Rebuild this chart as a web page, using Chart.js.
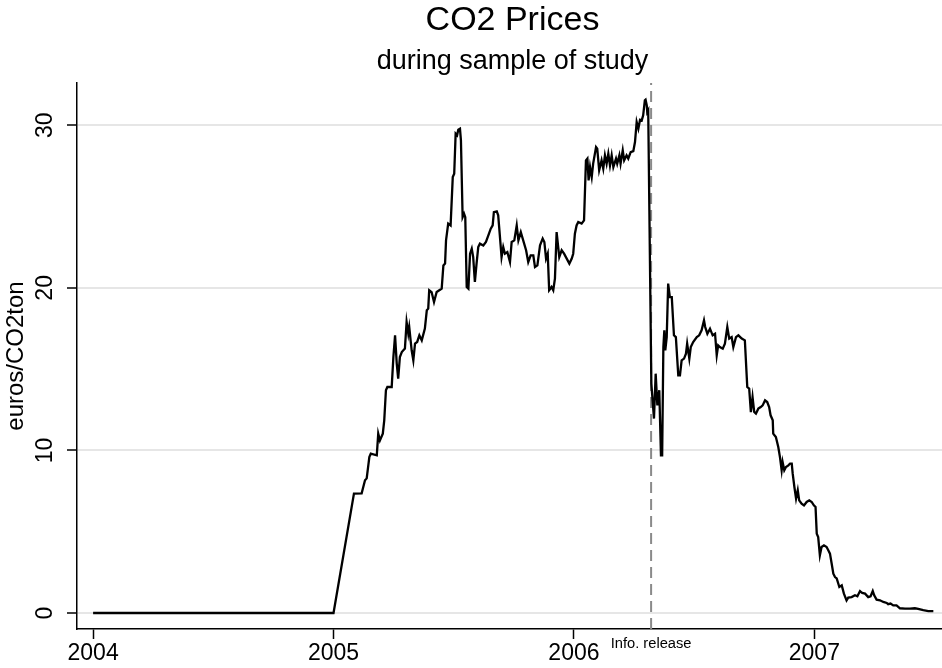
<!DOCTYPE html>
<html>
<head>
<meta charset="utf-8">
<script src="https://cdn.jsdelivr.net/npm/chart.js@4.4.1/dist/chart.umd.min.js"></script>
<style>
  html, body { margin: 0; padding: 0; background: #fff; }
  #wrap { width: 942px; height: 668px; position: relative; }
</style>
</head>
<body>
<div id="wrap"><canvas id="c" width="942" height="668"></canvas></div>
<script>
// ---- data (fractional years, euros per ton CO2) ----
const dates = [
  2004.000, 2005.000, 2005.085, 2005.117, 2005.131, 2005.138, 2005.149, 2005.155, 2005.180, 2005.186,
  2005.193, 2005.205, 2005.211, 2005.218, 2005.224, 2005.242, 2005.249, 2005.256, 2005.263, 2005.269,
  2005.276, 2005.284, 2005.297, 2005.304, 2005.311, 2005.315, 2005.325, 2005.332, 2005.339, 2005.348,
  2005.357, 2005.367, 2005.380, 2005.388, 2005.394, 2005.398, 2005.408, 2005.418, 2005.429, 2005.440,
  2005.450, 2005.457, 2005.464, 2005.468, 2005.477, 2005.487, 2005.496, 2005.502, 2005.508, 2005.514,
  2005.519, 2005.526, 2005.530, 2005.537, 2005.543, 2005.548, 2005.554, 2005.561, 2005.568, 2005.575,
  2005.581, 2005.588, 2005.595, 2005.602, 2005.609, 2005.623, 2005.634, 2005.644, 2005.654, 2005.662,
  2005.667, 2005.679, 2005.685, 2005.689, 2005.699, 2005.706, 2005.713, 2005.723, 2005.734, 2005.741,
  2005.752, 2005.762, 2005.769, 2005.779, 2005.789, 2005.801, 2005.810, 2005.820, 2005.831, 2005.838,
  2005.848, 2005.859, 2005.870, 2005.877, 2005.884, 2005.891, 2005.897, 2005.907, 2005.914, 2005.921,
  2005.928, 2005.939, 2005.949, 2005.959, 2005.970, 2005.981, 2005.991, 2005.997, 2006.004, 2006.011,
  2006.018, 2006.032, 2006.042, 2006.050, 2006.056, 2006.061, 2006.067, 2006.074, 2006.080, 2006.092,
  2006.097, 2006.105, 2006.115, 2006.122, 2006.129, 2006.136, 2006.143, 2006.150, 2006.157, 2006.164,
  2006.175, 2006.180, 2006.189, 2006.194, 2006.203, 2006.209, 2006.219, 2006.226, 2006.236, 2006.247,
  2006.254, 2006.261, 2006.268, 2006.275, 2006.282, 2006.288, 2006.295, 2006.298, 2006.303, 2006.305,
  2006.309, 2006.322, 2006.333, 2006.340, 2006.347, 2006.355, 2006.362, 2006.367, 2006.372, 2006.376,
  2006.380, 2006.386, 2006.392, 2006.399, 2006.407, 2006.416, 2006.424, 2006.434, 2006.441, 2006.448,
  2006.458, 2006.466, 2006.471, 2006.480, 2006.486, 2006.496, 2006.511, 2006.521, 2006.531, 2006.541,
  2006.546, 2006.555, 2006.566, 2006.577, 2006.587, 2006.594, 2006.600, 2006.607, 2006.619, 2006.628,
  2006.638, 2006.646, 2006.656, 2006.663, 2006.674, 2006.684, 2006.698, 2006.711, 2006.721, 2006.729,
  2006.736, 2006.743, 2006.750, 2006.757, 2006.767, 2006.777, 2006.785, 2006.795, 2006.804, 2006.812,
  2006.818, 2006.827, 2006.829, 2006.840, 2006.850, 2006.857, 2006.864, 2006.868, 2006.875, 2006.882,
  2006.892, 2006.899, 2006.906, 2006.910, 2006.917, 2006.924, 2006.931, 2006.937, 2006.947, 2006.957,
  2006.968, 2006.979, 2006.989, 2006.998, 2007.005, 2007.010, 2007.016, 2007.023, 2007.030, 2007.040,
  2007.051, 2007.058, 2007.065, 2007.072, 2007.079, 2007.086, 2007.093, 2007.104, 2007.114, 2007.123,
  2007.134, 2007.141, 2007.155, 2007.169, 2007.179, 2007.190, 2007.199, 2007.211, 2007.224, 2007.234,
  2007.243, 2007.249, 2007.259, 2007.273, 2007.287, 2007.301, 2007.307, 2007.317, 2007.328, 2007.342,
  2007.356, 2007.377, 2007.398, 2007.418, 2007.432, 2007.453, 2007.474, 2007.495
];
const prices = [
  0.00, 0.00, 7.34, 7.36, 8.16, 8.28, 9.59, 9.80, 9.70, 11.03,
  10.62, 11.03, 11.85, 13.70, 13.90, 13.90, 15.74, 17.08, 15.34, 14.42,
  15.74, 16.05, 16.26, 17.90, 17.18, 17.59, 16.16, 15.54, 16.57, 16.67,
  17.08, 16.77, 17.49, 18.62, 18.72, 19.85, 19.74, 19.13, 19.74, 19.85,
  19.95, 21.38, 21.49, 22.92, 23.95, 23.84, 26.81, 27.02, 29.48, 29.38,
  29.73, 29.79, 29.07, 24.35, 24.56, 24.35, 20.05, 19.95, 22.10, 22.41,
  21.89, 20.36, 21.49, 22.51, 22.72, 22.61, 22.82, 23.23, 23.64, 23.84,
  24.66, 24.70, 24.46, 23.74, 21.89, 22.51, 22.10, 22.20, 21.59, 22.82,
  22.92, 23.84, 22.92, 23.43, 22.92, 22.31, 21.59, 22.00, 22.00, 21.28,
  21.38, 22.61, 23.03, 22.82, 21.80, 22.10, 19.85, 20.05, 19.85, 20.57,
  23.43, 21.89, 22.31, 22.10, 21.80, 21.49, 21.80, 22.10, 23.33, 23.84,
  24.05, 23.95, 24.15, 27.84, 27.95, 26.61, 27.43, 26.81, 27.64, 28.66,
  28.56, 27.23, 27.84, 27.33, 28.15, 27.64, 28.25, 27.53, 28.15, 27.43,
  27.95, 27.64, 28.15, 27.64, 28.46, 27.84, 28.15, 27.95, 28.35, 28.41,
  28.97, 30.20, 29.79, 30.34, 30.30, 30.61, 31.53, 31.57, 31.22, 30.81,
  30.92, 14.11, 11.96, 14.72, 12.77, 13.70, 9.70, 9.70, 16.36, 17.39,
  16.16, 16.97, 20.26, 19.43, 19.43, 17.08, 16.97, 14.62, 14.62, 15.54,
  15.65, 15.95, 16.57, 15.65, 16.36, 16.67, 16.97, 17.08, 17.39, 18.00,
  17.59, 17.18, 17.49, 17.08, 17.18, 15.85, 16.46, 16.36, 16.26, 16.57,
  17.59, 16.88, 16.97, 16.36, 16.97, 17.08, 16.88, 16.77, 13.90, 13.80,
  12.36, 13.28, 12.36, 12.26, 12.57, 12.67, 12.77, 13.08, 12.98, 12.67,
  12.16, 11.85, 11.03, 10.82, 10.21, 9.59, 8.78, 9.29, 8.78, 8.98,
  9.08, 9.19, 9.19, 8.57, 7.75, 7.04, 7.55, 6.93, 6.73, 6.62,
  6.83, 6.93, 6.83, 6.62, 6.52, 4.88, 4.67, 3.55, 4.06, 4.16,
  4.06, 3.86, 3.65, 3.04, 2.42, 2.21, 2.13, 1.60, 1.70, 1.19,
  0.78, 0.95, 0.98, 1.09, 1.03, 1.35, 1.23, 1.19, 0.98, 1.03,
  1.35, 1.09, 0.82, 0.78, 0.68, 0.62, 0.54, 0.58, 0.47, 0.47,
  0.29, 0.27, 0.27, 0.29, 0.25, 0.17, 0.12, 0.12
];
const infoRelease = 2006.321;
const xTickValues = [2004, 2005, 2006, infoRelease, 2007];
const xTickLabels = ['2004', '2005', '2006', 'Info. release', '2007'];
const yTickValues = [0, 10, 20, 30];
const titleText = 'CO2 Prices';
const subtitleText = 'during sample of study';
const yAxisTitle = 'euros/CO2ton';

// ---- chart ----
const FONT = 'Liberation Sans, Arial, Helvetica, sans-serif';
const X_MIN = 2003.933, X_MAX = 2007.531;
const Y_MIN = -0.985, Y_MAX = 32.6;

const priceSeries = dates.map((d, i) => ({ x: d, y: prices[i] }));
const releaseLine = [{ x: infoRelease, y: Y_MIN }, { x: infoRelease, y: Y_MAX }];

const centerTitles = {
  id: 'centerTitles',
  afterLayout(chart) {
    const a = chart.chartArea;
    chart.boxes.forEach(b => {
      if (b.options && (b.options.text === titleText || b.options.text === subtitleText)) {
        b.left = a.left;
        b.right = a.right + 6;
      }
    });
  }
};

new Chart(document.getElementById('c'), {
  type: 'line',
  data: {
    datasets: [
      {
        label: 'CO2 price',
        data: priceSeries,
        borderColor: '#000000',
        borderWidth: 2.3,
        pointRadius: 0,
        tension: 0,
        fill: false,
        order: 1
      },
      {
        label: 'Info. release',
        data: releaseLine,
        borderColor: '#8a8a8a',
        borderWidth: 2,
        borderDash: [11, 6],
        pointRadius: 0,
        fill: false,
        order: 2
      }
    ]
  },
  options: {
    responsive: false,
    animation: false,
    layout: { padding: 0 },
    plugins: {
      legend: { display: false },
      tooltip: { enabled: false },
      title: {
        display: true,
        text: titleText,
        color: '#000',
        font: { family: FONT, size: 34, weight: 'normal' },
        padding: { top: 0, bottom: 0 }
      },
      subtitle: {
        display: true,
        text: subtitleText,
        color: '#000',
        font: { family: FONT, size: 27, weight: 'normal' },
        padding: { top: 4.3, bottom: 5.5 }
      }
    },
    scales: {
      x: {
        type: 'linear',
        min: X_MIN,
        max: X_MAX,
        afterBuildTicks: s => { s.ticks = xTickValues.map(v => ({ value: v })); },
        afterFit: s => { s.height = 39; },
        grid: {
          drawOnChartArea: false,
          drawTicks: true,
          tickLength: 10,
          tickWidth: 1.5,
          tickColor: ctx => (ctx.tick && ctx.tick.value === infoRelease) ? 'rgba(0,0,0,0)' : '#000'
        },
        border: { display: true, color: '#000', width: 1.5 },
        ticks: {
          autoSkip: false,
          minRotation: 0,
          maxRotation: 0,
          padding: 2,
          color: '#000',
          font: ctx => (ctx.tick && ctx.tick.value === infoRelease)
            ? { family: FONT, size: 14.7, lineHeight: 0.45 }
            : { family: FONT, size: 23, lineHeight: 1.1 },
          callback: (v, i) => xTickLabels[i]
        }
      },
      y: {
        type: 'linear',
        min: Y_MIN,
        max: Y_MAX,
        afterBuildTicks: s => { s.ticks = yTickValues.map(v => ({ value: v })); },
        afterFit: s => { s.width = 77; },
        grid: {
          color: '#e6e6e6',
          lineWidth: 2,
          drawTicks: true,
          tickLength: 10,
          tickWidth: 1.5,
          tickColor: '#000'
        },
        border: { display: true, color: '#000', width: 1.5 },
        ticks: {
          minRotation: 90,
          maxRotation: 90,
          crossAlign: 'center',
          padding: 9,
          color: '#000',
          font: { family: FONT, size: 23 },
          callback: v => String(v)
        },
        title: {
          display: true,
          text: yAxisTitle,
          color: '#000',
          font: { family: FONT, size: 24 },
          padding: { top: 2, bottom: 0 }
        }
      }
    }
  },
  plugins: [centerTitles]
});
</script>
</body>
</html>
